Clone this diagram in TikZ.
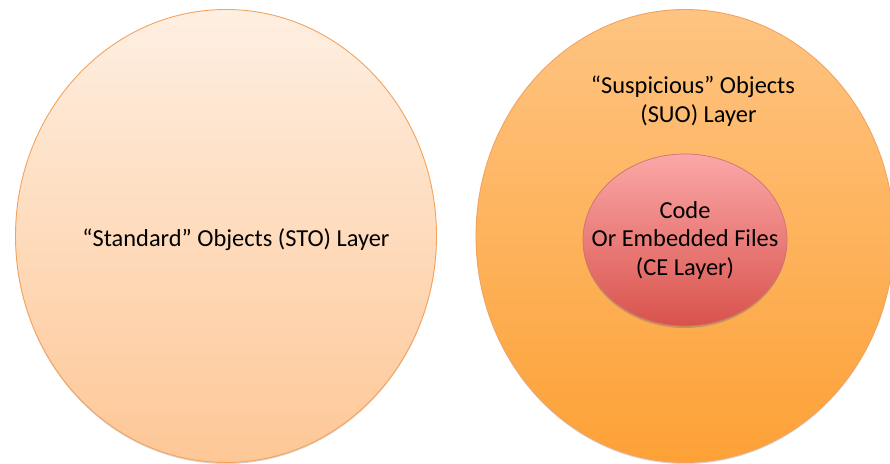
\documentclass[tikz,border=0pt]{standalone}
\usepackage{fontspec}
\setmainfont{Carlito}
\usetikzlibrary{shadows,shapes.geometric}
\definecolor{stoTop}{HTML}{FEEFE2}
\definecolor{stoBot}{HTML}{FEC796}
\definecolor{suoTop}{HTML}{FEC482}
\definecolor{suoBot}{HTML}{FDA136}
\definecolor{ceTop}{HTML}{FBA8A8}
\definecolor{ceBot}{HTML}{D9524C}
\definecolor{orangeEdge}{HTML}{F4A35E}
\definecolor{redEdge}{HTML}{C0504D}
\tikzset{
  layer/.style={ellipse, draw=orangeEdge, line width=0.9pt, inner sep=0pt},
  celayer/.style={ellipse, draw=redEdge!80, line width=0.7pt, inner sep=0pt,
    top color=ceTop, bottom color=ceBot,
    drop shadow={shadow xshift=0pt, shadow yshift=-2pt, opacity=0.35, fill=black!60}},
  lbl/.style={font=\fontsize{24.4}{28.5}\selectfont, align=center, text=black}
}
\begin{document}
\begin{tikzpicture}[x=1pt,y=1pt]
\useasboundingbox (0,0) rectangle (890,463);
\clip (0,0) rectangle (890,463);
\fill[white] (0,0) rectangle (890,463);
% left ellipse
\node[layer, minimum width=421, minimum height=453, top color=stoTop, bottom color=stoBot,
  drop shadow={shadow xshift=0pt, shadow yshift=-1.5pt, opacity=0.3, fill=black!50}] (sto) at (226,227) {};
\node[lbl] (stotext) at (236,223) {“Standard” Objects (STO) Layer};
% right ellipse
\node[layer, minimum width=418, minimum height=453, top color=suoTop, bottom color=suoBot,
  drop shadow={shadow xshift=0pt, shadow yshift=-1.5pt, opacity=0.3, fill=black!50}] (suo) at (685,227) {};
\node[lbl] (suotext) at (693,362) {“Suspicious” Objects\\\hspace*{11pt}(SUO) Layer};
% inner ellipse
\node[celayer, minimum width=204, minimum height=172] (ce) at (685,223) {};
\node[lbl] (cetext) at (685,223) {Code\\Or Embedded Files\\(CE Layer)};
\end{tikzpicture}
\end{document}
